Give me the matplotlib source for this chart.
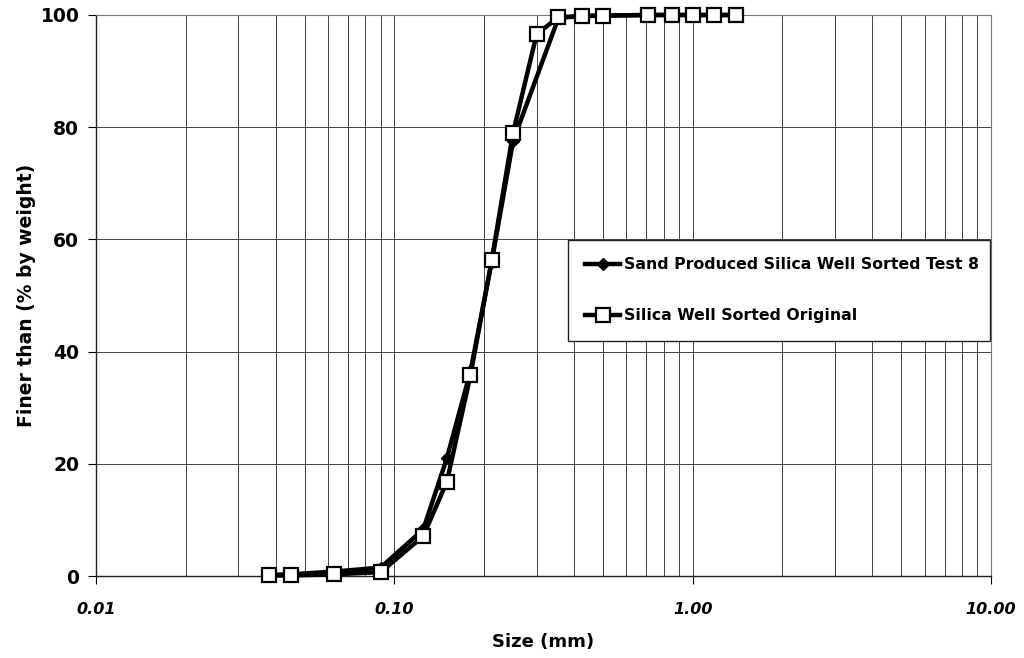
import matplotlib
matplotlib.use("Agg")
import matplotlib.pyplot as plt
from matplotlib.ticker import FixedLocator, NullFormatter, LogLocator

plt.rcParams['font.family'] = ['DejaVu Sans']

# Sieve sizes (mm) and percent passing
size_test8 = [0.038, 0.045, 0.063, 0.090, 0.125, 0.150, 0.180, 0.212, 0.250,
              0.355, 0.425, 0.500, 0.710, 0.850, 1.000, 1.180, 1.400]
finer_test8 = [0.2, 0.3, 0.8, 1.5, 8.3, 21.0, 36.5, 56.0, 77.5,
               99.5, 99.8, 99.9, 100.0, 100.0, 100.0, 100.0, 100.0]

size_orig = [0.038, 0.045, 0.063, 0.090, 0.125, 0.150, 0.180, 0.212, 0.250,
             0.300, 0.355, 0.425, 0.500, 0.710, 0.850, 1.000, 1.180, 1.400]
finer_orig = [0.1, 0.1, 0.3, 0.7, 7.1, 16.8, 35.8, 56.3, 79.0,
              96.6, 99.6, 99.8, 99.9, 100.0, 100.0, 100.0, 100.0, 100.0]

x_ticks = [0.01, 0.1, 1.0, 10.0]
x_tick_labels = ["0.01", "0.10", "1.00", "10.00"]
y_ticks = [0, 20, 40, 60, 80, 100]

W, H = 1024, 658
fig = plt.figure(figsize=(W / 100, H / 100), dpi=100)
ax = fig.add_axes([96 / W, 1 - 576 / H, (991 - 96) / W, (576 - 15) / H])

ax.plot(size_test8, finer_test8, color="black", lw=3.2, marker="D", ms=6.5,
        mfc="black", mec="black", label="Sand Produced Silica Well Sorted Test 8",
        zorder=3, clip_on=False)
ax.plot(size_orig, finer_orig, color="black", lw=3.2, marker="s", ms=9.5,
        mfc="white", mec="black", mew=1.6, label="Silica Well Sorted Original",
        zorder=4, clip_on=False)

ax.set_xscale("log")
ax.set_xlim(0.01, 10)
ax.set_ylim(0, 100)

ax.xaxis.set_major_locator(FixedLocator(x_ticks))
ax.set_xticklabels(x_tick_labels, fontweight="bold", fontstyle="italic", fontsize=11.5)
ax.xaxis.set_minor_locator(LogLocator(base=10, subs=range(2, 10)))
ax.xaxis.set_minor_formatter(NullFormatter())
ax.set_yticks(y_ticks)
ax.set_yticklabels([str(v) for v in y_ticks], fontweight="bold", fontsize=13.5)

ax.tick_params(axis="x", which="major", direction="out", length=6, width=0.8, pad=13)
ax.tick_params(axis="x", which="minor", length=0)
ax.tick_params(axis="y", direction="out", length=6, width=0.8, pad=6)

ax.grid(True, which="both", axis="x", color="#444444", lw=0.7)
ax.grid(True, which="major", axis="y", color="#444444", lw=0.7)
ax.set_axisbelow(True)

for side in ("top", "right"):
    ax.spines[side].set_color("#777777")
    ax.spines[side].set_linewidth(0.8)
for side in ("left", "bottom"):
    ax.spines[side].set_color("#222222")
    ax.spines[side].set_linewidth(1.0)

ax.set_xlabel("Size (mm)", fontweight="bold", fontsize=13, labelpad=11)
ax.set_ylabel("Finer than (% by weight)", fontweight="bold", fontsize=13.5, labelpad=3)

# legend box spans a fixed region in axes coordinates
lx0 = (568 - 96) / 895
lx1 = (990 - 96) / 895
ly_top = 1 - (240 - 15) / 561
leg = ax.legend(loc="upper left", bbox_to_anchor=(lx0, ly_top - 0.2, lx1 - lx0, 0.2),
                mode="expand", frameon=True, fancybox=False, edgecolor="#222222",
                framealpha=1, prop={"weight": "bold", "size": 11.3}, handlelength=2.2,
                handletextpad=0.3, labelspacing=2.3, borderpad=1.1, borderaxespad=0)
leg.get_frame().set_linewidth(1.0)

fig.savefig("out.png", dpi=100)
